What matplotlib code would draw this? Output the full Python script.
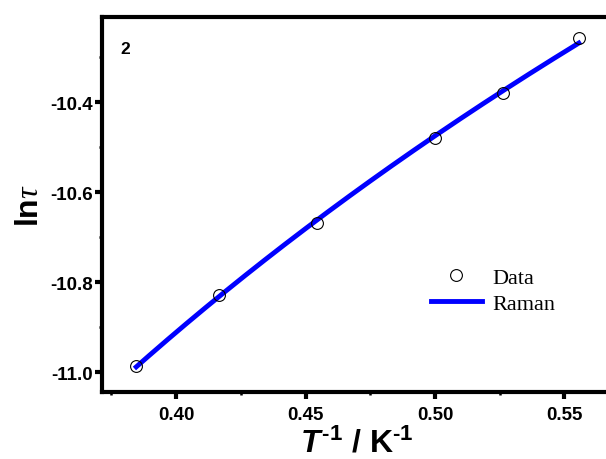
import numpy as np
import matplotlib
matplotlib.use("Agg")
import matplotlib.pyplot as plt
from matplotlib.ticker import MultipleLocator

# Measured relaxation data (temperatures in K) and ln(tau)
temperature = [2.6, 2.4, 2.2, 2.0, 1.9, 1.8]
ln_tau = [-10.985, -10.829, -10.668, -10.479, -10.378, -10.257]

# Raman fit parameters: tau^-1 = C * T^n
raman_C = 9110.0
raman_n = 1.958

x_ticks = [0.40, 0.45, 0.50, 0.55]
y_ticks = [-11.0, -10.8, -10.6, -10.4]

plt.rcParams["mathtext.fontset"] = "custom"
plt.rcParams["mathtext.rm"] = "Liberation Sans:bold"
plt.rcParams["mathtext.it"] = "Liberation Sans:bold:italic"
plt.rcParams["mathtext.bf"] = "Liberation Sans:bold"
plt.rcParams["mathtext.sf"] = "Liberation Serif:italic"

inv_T = 1.0 / np.array(temperature)
T_fit = np.linspace(min(temperature), max(temperature), 200)
ln_tau_fit = -np.log(raman_C * T_fit ** raman_n)

fig = plt.figure(figsize=(6.06, 4.60), dpi=100)
ax = fig.add_axes([0.1675, 0.1457, 1.01 - 0.1675, 0.9609 - 0.1457])

ax.plot(inv_T, ln_tau, linestyle="none", marker="o", markersize=8.5,
        markerfacecolor="none", markeredgecolor="black", markeredgewidth=0.8,
        label="Data", zorder=3)
ax.plot(1.0 / T_fit, ln_tau_fit, color="#0000ff", linewidth=3.5,
        label="Raman", zorder=2)

ax.set_xlim(0.3712, 0.5684)
ax.set_ylim(-11.0438, -10.21)
ax.set_xticks(x_ticks)
ax.set_yticks(y_ticks)
ax.set_xticklabels([f"{v:.2f}" for v in x_ticks])
ax.set_yticklabels([f"{v:.1f}" for v in y_ticks])
ax.xaxis.set_minor_locator(MultipleLocator(0.025))
ax.yaxis.set_minor_locator(MultipleLocator(0.1))

for side in ("left", "bottom", "top"):
    ax.spines[side].set_linewidth(3.0)
ax.spines["right"].set_visible(False)

ax.tick_params(which="major", direction="out", length=5, width=3,
               top=False, right=False)
ax.tick_params(axis="x", which="major", pad=5)
ax.tick_params(axis="y", which="major", pad=1)
ax.tick_params(which="minor", direction="out", length=2.5, width=1.8,
               top=False, right=False)
for lab in ax.get_xticklabels() + ax.get_yticklabels():
    lab.set_fontfamily("Liberation Sans")
    lab.set_fontweight("bold")
    lab.set_fontsize(13.5)

# x-axis label drawn as figure text so it can sit at the very bottom edge
fig.text(356.7 / 606, 7 / 460, r"$T^{\text{-1}}$ / K$^{\text{-1}}$",
         fontfamily="Liberation Sans", fontweight="bold", fontsize=23,
         ha="center", va="baseline")

ax.set_ylabel(r"ln$\mathsf{\tau}$", fontfamily="Liberation Sans",
              fontweight="bold", fontsize=23)
ax.yaxis.set_label_coords(-0.110, 0.5)

ax.text(0.036, 0.917, "2", transform=ax.transAxes, fontfamily="Liberation Sans",
        fontweight="bold", fontsize=12.5, ha="left", va="center")

leg = ax.legend(loc="upper left", bbox_to_anchor=(0.645, 0.333), frameon=False,
                prop={"family": "Liberation Serif", "size": 16},
                handlelength=2.3, handletextpad=0.45, labelspacing=0.25,
                borderpad=0, borderaxespad=0, numpoints=1)

fig.savefig("out.png", dpi=100)
